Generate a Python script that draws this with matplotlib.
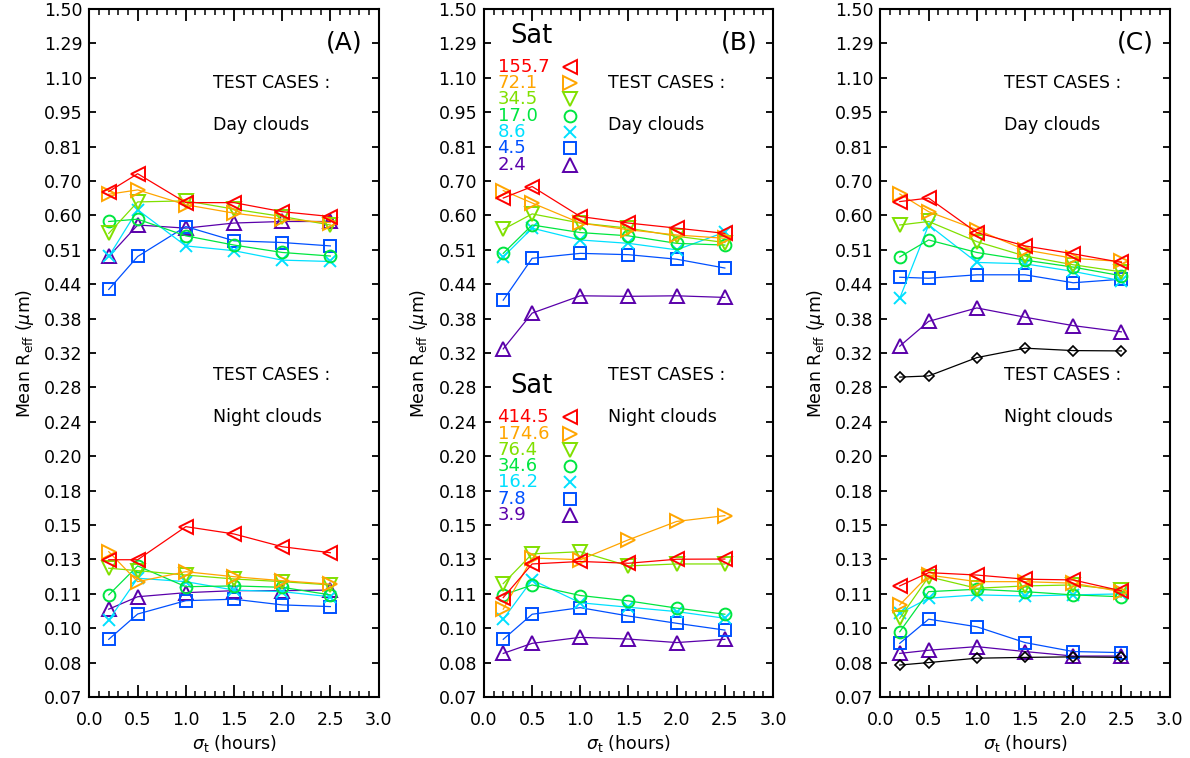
import numpy as np
import matplotlib
matplotlib.use('Agg')
import matplotlib.pyplot as plt
from matplotlib.ticker import FixedLocator, MultipleLocator, NullLocator, FormatStrFormatter

plt.rcParams['font.family'] = ['DejaVu Sans']
plt.rcParams['mathtext.fontset'] = 'dejavusans'

# sigma_t values (hours)
sigma_t = [0.2, 0.5, 1.0, 1.5, 2.0, 2.5]

# series order: red, orange, yellow-green, green, cyan, blue, purple
colors = ['#FF0000', '#FFA500', '#80E000', '#00E640', '#00E0FF', '#0050FF', '#5A00AA']
markers = ['<', '>', 'v', 'o', 'x', 's', '^']
msizes = [10, 10, 10, 8.5, 8.5, 8, 10]

sat_day = ['155.7', '72.1', '34.5', '17.0', '8.6', '4.5', '2.4']
sat_night = ['414.5', '174.6', '76.4', '34.6', '16.2', '7.8', '3.9']

# panel A
a_day = [
    [0.665, 0.720, 0.633, 0.633, 0.608, 0.595],
    [0.657, 0.670, 0.627, 0.604, 0.588, 0.579],
    [0.552, 0.635, 0.638, 0.615, 0.595, 0.573],
    [0.582, 0.588, 0.546, 0.524, 0.507, 0.499],
    [0.498, 0.613, 0.522, 0.511, 0.490, 0.487],
    [0.430, 0.498, 0.569, 0.534, 0.530, 0.522],
    [0.498, 0.573, 0.565, 0.578, 0.582, 0.582],
]
a_night = [
    [0.129, 0.129, 0.1495, 0.1447, 0.1367, 0.1331],
    [0.1337, 0.117, 0.1223, 0.1196, 0.1175, 0.1157],
    [0.1242, 0.1229, 0.1205, 0.1184, 0.117, 0.1153],
    [0.1103, 0.1255, 0.1144, 0.1148, 0.1141, 0.1103],
    [0.0986, 0.1188, 0.117, 0.1127, 0.1119, 0.1094],
    [0.0905, 0.1013, 0.1075, 0.1082, 0.1055, 0.1047],
    [0.1035, 0.1094, 0.1114, 0.1124, 0.1124, 0.1127],
]

# panel B
b_day = [
    [0.646, 0.680, 0.595, 0.578, 0.565, 0.552],
    [0.668, 0.632, 0.578, 0.561, 0.548, 0.540],
    [0.562, 0.602, 0.578, 0.565, 0.545, 0.530],
    [0.505, 0.573, 0.554, 0.546, 0.528, 0.524],
    [0.497, 0.565, 0.536, 0.528, 0.513, 0.555],
    [0.410, 0.494, 0.505, 0.502, 0.492, 0.473],
    [0.330, 0.387, 0.418, 0.417, 0.418, 0.415],
]
b_night = [
    [0.109, 0.1266, 0.128, 0.127, 0.1293, 0.1294],
    [0.1035, 0.130, 0.129, 0.141, 0.153, 0.157],
    [0.116, 0.1324, 0.1337, 0.1255, 0.1266, 0.1266],
    [0.1103, 0.1153, 0.110, 0.1074, 0.104, 0.1012],
    [0.099, 0.1179, 0.1065, 0.1044, 0.1024, 0.0994],
    [0.0905, 0.1012, 0.1042, 0.1004, 0.0972, 0.0943],
    [0.085, 0.0889, 0.0913, 0.0906, 0.0892, 0.0905],
]

# panel C
c_day = [
    [0.636, 0.646, 0.554, 0.522, 0.504, 0.485],
    [0.658, 0.608, 0.561, 0.513, 0.494, 0.487],
    [0.573, 0.582, 0.532, 0.499, 0.480, 0.465],
    [0.497, 0.536, 0.507, 0.490, 0.475, 0.457],
    [0.4135, 0.573, 0.485, 0.482, 0.466, 0.447],
    [0.454, 0.452, 0.459, 0.459, 0.443, 0.450],
    [0.334, 0.373, 0.396, 0.380, 0.366, 0.356],
]
c_night = [
    [0.1148, 0.1218, 0.1205, 0.1183, 0.1179, 0.1123],
    [0.1055, 0.1205, 0.117, 0.117, 0.1162, 0.1119],
    [0.0994, 0.1196, 0.1136, 0.1148, 0.1153, 0.1127],
    [0.0936, 0.1119, 0.1131, 0.1119, 0.1103, 0.1094],
    [0.1016, 0.1087, 0.1103, 0.1098, 0.1103, 0.1108],
    [0.0889, 0.099, 0.0957, 0.0892, 0.0857, 0.0853],
    [0.085, 0.0862, 0.0876, 0.0857, 0.084, 0.084],
]
c_day_black = [0.291, 0.2925, 0.3174, 0.331, 0.3275, 0.327]
c_night_black = [0.0807, 0.0816, 0.0832, 0.0835, 0.0837, 0.0835]

# y axis: log, 20 equal steps from 0.07 to 1.50
ymin, ymax = 0.07, 1.50
yticks = ymin * (ymax / ymin) ** (np.arange(21) / 20.0)


def setup_axes(ax, tag):
    ax.set_yscale('log')
    ax.set_xlim(0, 3.0)
    ax.set_ylim(ymin, ymax)
    ax.yaxis.set_major_locator(FixedLocator(yticks))
    ax.yaxis.set_minor_locator(NullLocator())
    ax.yaxis.set_major_formatter(FormatStrFormatter('%.2f'))
    ax.xaxis.set_major_locator(MultipleLocator(0.5))
    ax.xaxis.set_minor_locator(MultipleLocator(0.1))
    ax.xaxis.set_major_formatter(FormatStrFormatter('%.1f'))
    ax.tick_params(axis='x', which='major', direction='in', length=8.5, width=1.3,
                   top=True, labelsize=12.5, pad=10)
    ax.tick_params(axis='x', which='minor', direction='in', length=4, width=1.1, top=True)
    ax.tick_params(axis='y', which='major', direction='in', length=4.8, width=1.3,
                   right=True, labelsize=12.5, pad=5)
    for sp in ax.spines.values():
        sp.set_linewidth(1.5)
    ax.set_xlabel(r'$\sigma_{\rm t}$ (hours)', fontsize=12.5, labelpad=3)
    ax.set_ylabel(r'Mean R$_{\rm eff}$ ($\mu$m)', fontsize=12.5, labelpad=6)
    ax.text(0.945, 0.951, tag, transform=ax.transAxes, ha='right', va='center', fontsize=18)
    ax.text(0.429, 0.892, 'TEST CASES :', transform=ax.transAxes, ha='left', va='center', fontsize=12.5)
    ax.text(0.429, 0.831, 'Day clouds', transform=ax.transAxes, ha='left', va='center', fontsize=12.5)
    ax.text(0.429, 0.468, 'TEST CASES :', transform=ax.transAxes, ha='left', va='center', fontsize=12.5)
    ax.text(0.429, 0.407, 'Night clouds', transform=ax.transAxes, ha='left', va='center', fontsize=12.5)


def draw_series(ax, rows):
    for i in range(len(rows) - 1, -1, -1):
        ax.plot(sigma_t, rows[i], color=colors[i], lw=0.9, marker=markers[i],
                ms=msizes[i], mfc='none', mec=colors[i], mew=1.4)


def draw_key(ax, labels, y0):
    ax.text(0.163, y0 + 0.045, 'Sat', transform=ax.transAxes, ha='center', va='center', fontsize=18.5)
    for i, lab in enumerate(labels):
        yy = y0 - i * 0.0237
        ax.text(0.047, yy, lab, transform=ax.transAxes, ha='left', va='center',
                fontsize=13, color=colors[i])
        ax.plot([0.298], [yy], transform=ax.transAxes, linestyle='none',
                marker=markers[i], ms=msizes[i], mfc='none', mec=colors[i], mew=1.4,
                clip_on=False)


fig = plt.figure(figsize=(11.9, 7.58), dpi=100)
lefts = [0.0752, 0.4067, 0.7399]
axs = [fig.add_axes([l, 0.0805, 0.2429, 0.9077]) for l in lefts]

setup_axes(axs[0], '(A)')
draw_series(axs[0], a_day)
draw_series(axs[0], a_night)

setup_axes(axs[1], '(B)')
draw_series(axs[1], b_day)
draw_series(axs[1], b_night)
draw_key(axs[1], sat_day, 0.916)
draw_key(axs[1], sat_night, 0.4066)

setup_axes(axs[2], '(C)')
draw_series(axs[2], c_day)
draw_series(axs[2], c_night)
axs[2].plot(sigma_t, c_day_black, color='black', lw=0.9, marker='D', ms=5.5, mfc='none', mew=1.2)
axs[2].plot(sigma_t, c_night_black, color='black', lw=0.9, marker='D', ms=5.5, mfc='none', mew=1.2)

fig.savefig('out.png', dpi=100)
